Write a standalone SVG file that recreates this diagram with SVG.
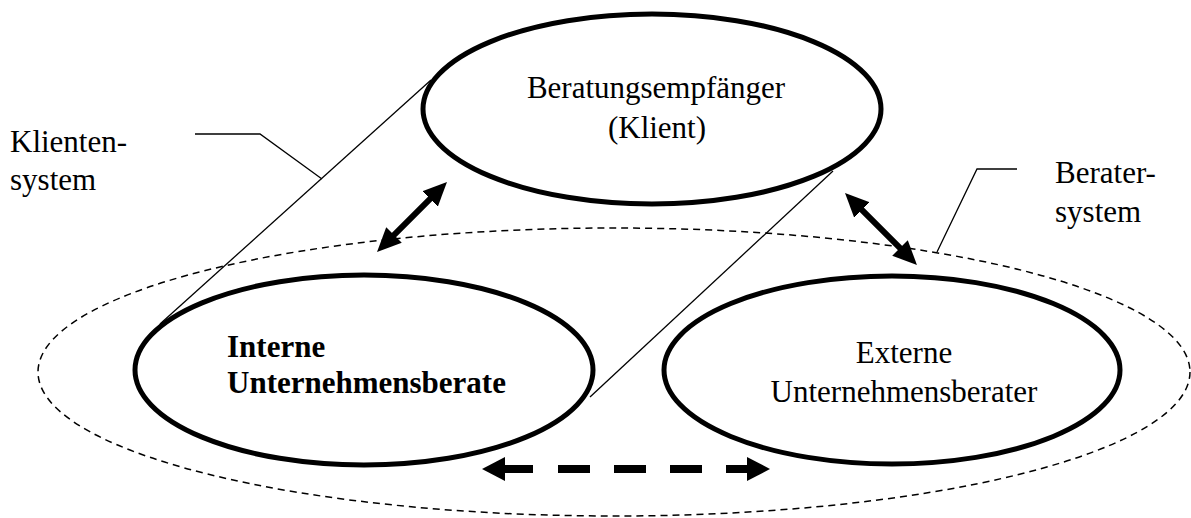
<svg xmlns="http://www.w3.org/2000/svg" width="1191" height="518" viewBox="0 0 1191 518">
<style>
.node{fill:#fff;stroke:#000;stroke-width:5}
.sys{fill:none;stroke:#000;stroke-width:1.5;stroke-dasharray:7 5}
.thin{fill:none;stroke:#000;stroke-width:1.3}
.t{font-family:"Liberation Serif","Times New Roman",serif;font-size:31px;fill:#000}
.b{font-weight:bold}
.arr{stroke:#000;stroke-width:6;fill:none}
.arrd{stroke:#000;stroke-width:8;fill:none;stroke-dasharray:41 25 32 24 32 24 32 24 34}
</style>
<defs>
<marker id="ah" markerUnits="userSpaceOnUse" markerWidth="24" markerHeight="22" viewBox="0 0 24 22" refX="14" refY="11" orient="auto-start-reverse"><path d="M0,0 L24,11 L0,22 z" fill="#000"/></marker>
<marker id="ahd" markerUnits="userSpaceOnUse" markerWidth="23" markerHeight="24" viewBox="0 0 23 24" refX="13" refY="12" orient="auto-start-reverse"><path d="M0,0 L23,12 L0,24 z" fill="#000"/></marker>
</defs>
<g id="beratersystem-boundary">
<ellipse class="sys" cx="614" cy="372" rx="576" ry="144"/>
</g>
<g id="klientensystem-boundary">
<line class="thin" x1="160" y1="324" x2="431" y2="80"/>
<line class="thin" x1="590" y1="397" x2="833" y2="171"/>
</g>
<g id="node-klient">
<ellipse class="node" cx="652" cy="109" rx="229" ry="95"/>
<text class="t" x="656" y="98" text-anchor="middle">Beratungsempfänger</text>
<text class="t" x="657" y="138" text-anchor="middle">(Klient)</text>
</g>
<g id="node-intern">
<ellipse class="node" cx="364" cy="370" rx="229" ry="95"/>
<text class="t b" x="227" y="357">Interne</text>
<text class="t b" x="227" y="393">Unternehmensberate</text>
</g>
<g id="node-extern">
<ellipse class="node" cx="892" cy="370" rx="228" ry="94"/>
<text class="t" x="904" y="363" text-anchor="middle">Externe</text>
<text class="t" x="904" y="402" text-anchor="middle">Unternehmensberater</text>
</g>
<g id="label-klientensystem">
<polyline class="thin" points="195,134 260,134 322,179"/>
<text class="t" x="10" y="152">Klienten-</text>
<text class="t" x="10" y="190">system</text>
</g>
<g id="label-beratersystem">
<polyline class="thin" points="1017,169 977,169 937,252"/>
<text class="t" x="1055" y="183">Berater-</text>
<text class="t" x="1055" y="222">system</text>
</g>
<g id="connectors">
<line class="arr" x1="384.1" y1="244.9" x2="439.9" y2="189.1" marker-start="url(#ah)" marker-end="url(#ah)"/>
<line class="arr" x1="852.1" y1="200.1" x2="909.9" y2="257.9" marker-start="url(#ah)" marker-end="url(#ah)"/>
<line class="arrd" x1="492" y1="469" x2="760" y2="469" marker-start="url(#ahd)" marker-end="url(#ahd)"/>
</g>
</svg>
